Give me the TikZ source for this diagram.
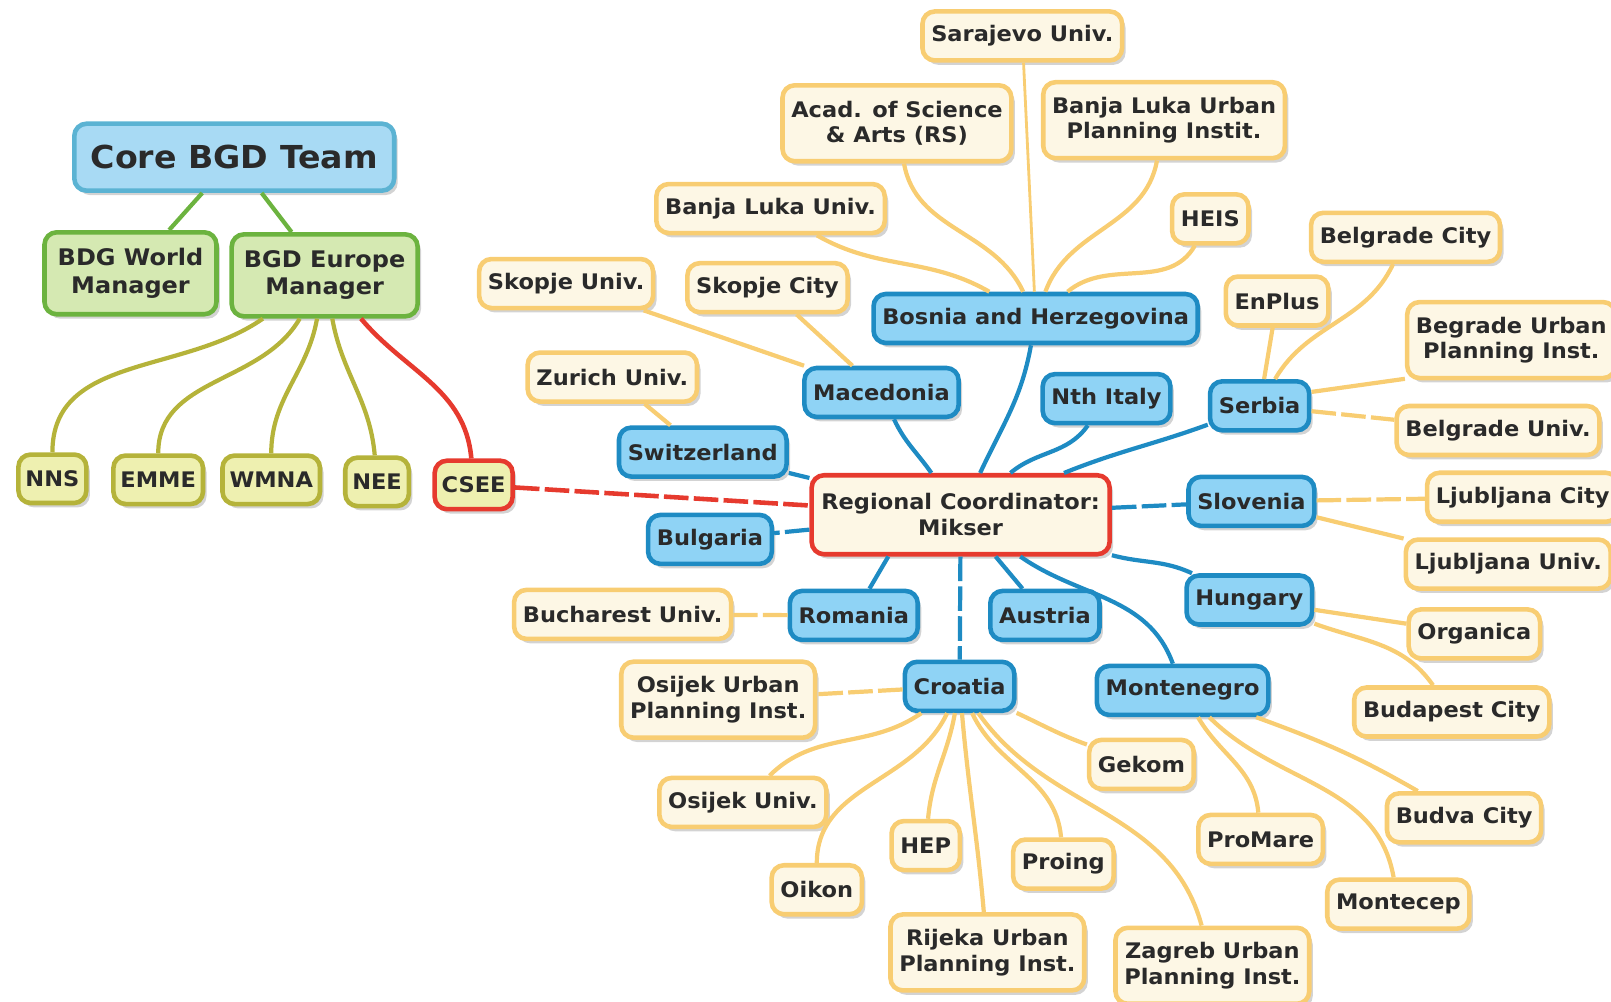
\documentclass[tikz,border=0pt]{standalone}
\usepackage{fontspec}
\setmainfont{DejaVu Sans}[FakeStretch=1.05]
\usetikzlibrary{shadows}

\definecolor{ink}{HTML}{2A2A2A}
\definecolor{cblue}{HTML}{1E8BC3}
\definecolor{cbluefill}{HTML}{8FD3F5}
\definecolor{tblue}{HTML}{5BB3D3}
\definecolor{tbluefill}{HTML}{A8DAF4}
\definecolor{pborder}{HTML}{F8CD72}
\definecolor{pfill}{HTML}{FDF7E5}
\definecolor{mgreen}{HTML}{6CB33F}
\definecolor{mgreenfill}{HTML}{D5E9B2}
\definecolor{gborder}{HTML}{B5B33A}
\definecolor{gfill}{HTML}{EEF0B0}
\definecolor{cred}{HTML}{E63A2E}

\begin{document}
\begin{tikzpicture}[x=0.02055cm, y=-0.02055cm,
    box/.style = {rounded corners=7pt, line width=2.6pt, align=center, inner xsep=5pt,
      inner ysep=2pt, minimum height=0.98cm, text=ink,
      font=\bfseries\fontsize{12.2}{14.6}\selectfont,
      drop shadow={shadow xshift=2pt, shadow yshift=-2.5pt, opacity=0.35}},
    country/.style = {box, draw=cblue, fill=cbluefill},
    partner/.style = {box, draw=pborder, fill=pfill},
    coordinator/.style = {box, draw=cred, fill=pfill, minimum width=5.96cm, minimum height=1.58cm},
    team/.style = {box, draw=tblue, fill=tbluefill, minimum width=6.4cm, minimum height=1.34cm,
      font=\bfseries\fontsize{18}{20}\selectfont},
    manager/.style = {box, draw=mgreen, fill=mgreenfill, minimum height=1.64cm,
      font=\bfseries\fontsize{13}{15.5}\selectfont},
    group/.style = {box, draw=gborder, fill=gfill, inner xsep=4pt, minimum height=0.97cm},
    twoline/.style = {minimum height=1.52cm},
    longdash/.style = {dash pattern=on 14pt off 3pt},
    countrylink/.style = {line width=2.4pt, draw=cblue},
    partnerlink/.style = {line width=2.4pt, draw=pborder},
    grouplink/.style = {line width=2.4pt, draw=gborder},
    managerlink/.style = {line width=2.4pt, draw=mgreen},
    redlink/.style = {line width=2.6pt, draw=cred}]

   \useasboundingbox (0,0) rectangle (1568,975);

   \node[team] (T) at (228,153) {Core BGD Team};
   \node[manager, minimum width=3.44cm] (W) at (127,266) {BDG World\\Manager};
   \node[manager, minimum width=3.72cm] (E) at (316,268) {BGD Europe\\Manager};
   \node[group] (NNS) at (51,466) {NNS};
   \node[group] (EMME) at (154,467) {EMME};
   \node[group] (WMNA) at (264,467) {WMNA};
   \node[group] (NEE) at (367,469) {NEE};
   \node[group, draw=cred] (CSEE) at (461,472) {CSEE};

   \node[coordinator] (RC) at (935,501) {Regional Coordinator:\\Mikser};

   \node[country] (BH) at (1008,310) {Bosnia and Herzegovina};
   \node[country] (MK) at (858,382) {Macedonia};
   \node[country] (IT) at (1077,388) {Nth Italy};
   \node[country] (RS) at (1226,395) {Serbia};
   \node[country] (CH) at (684,440) {Switzerland};
   \node[country] (SI) at (1218,488) {Slovenia};
   \node[country] (BG) at (691,525) {Bulgaria};
   \node[country] (RO) at (831,599) {Romania};
   \node[country] (AT) at (1017,599) {Austria};
   \node[country] (HU) at (1216,584) {Hungary};
   \node[country] (HR) at (934,668) {Croatia};
   \node[country] (ME) at (1151,672) {Montenegro};

   \node[partner] (sarajevo) at (995,35) {Sarajevo Univ.};
   \node[partner, twoline] (acad) at (873,120) {Acad. of Science\\\& Arts (RS)};
   \node[partner, twoline] (blurban) at (1133,117) {Banja Luka Urban\\Planning Instit.};
   \node[partner] (bluniv) at (750,203) {Banja Luka Univ.};
   \node[partner] (heis) at (1178,213) {HEIS};
   \node[partner] (bgcity) at (1368,231) {Belgrade City};
   \node[partner] (skuniv) at (551,276) {Skopje Univ.};
   \node[partner] (skcity) at (747,280) {Skopje City};
   \node[partner] (enplus) at (1243,293) {EnPlus};
   \node[partner, twoline] (bgurban) at (1471,331) {Begrade Urban\\Planning Inst.};
   \node[partner] (zurich) at (596,367) {Zurich Univ.};
   \node[partner] (bguniv) at (1458,419) {Belgrade Univ.};
   \node[partner] (ljcity) at (1482,484) {Ljubljana City};
   \node[partner] (ljuniv) at (1468,549) {Ljubljana Univ.};
   \node[partner] (bucharest) at (606,598) {Bucharest Univ.};
   \node[partner] (organica) at (1435,617) {Organica};
   \node[partner, twoline] (osurban) at (699,681) {Osijek Urban\\Planning Inst.};
   \node[partner] (budapest) at (1413,693) {Budapest City};
   \node[partner] (gekom) at (1111,744) {Gekom};
   \node[partner] (osuniv) at (723,781) {Osijek Univ.};
   \node[partner] (budva) at (1425,796) {Budva City};
   \node[partner] (promare) at (1227,817) {ProMare};
   \node[partner] (hep) at (901,823) {HEP};
   \node[partner] (proing) at (1035,841) {Proing};
   \node[partner] (oikon) at (795,866) {Oikon};
   \node[partner] (montecep) at (1361,880) {Montecep};
   \node[partner, twoline] (rijeka) at (961,927) {Rijeka Urban\\Planning Inst.};
   \node[partner, twoline] (zagreb) at (1180,940) {Zagreb Urban\\Planning Inst.};

   \draw[managerlink] (T) to (W);
   \draw[managerlink] (T) to (E);

   \draw[grouplink] (E) to[out=-145,in=90] (NNS);
   \draw[grouplink] (E) to[out=-120,in=90] (EMME);
   \draw[grouplink] (E) to[out=-100,in=90] (WMNA);
   \draw[grouplink] (E) to[out=-80,in=95] (NEE);
   \draw[redlink] (E) to[out=-50,in=95] (CSEE);
   \draw[redlink, longdash] (CSEE) to (RC);

   \draw[countrylink] (RC) to[out=65,in=-100] (BH);
   \draw[countrylink] (RC) to[out=125,in=-65] (MK);
   \draw[countrylink] (RC) to[out=40,in=-125] (IT);
   \draw[countrylink] (RC) to[out=22,in=-160] (RS);
   \draw[countrylink] (RC) to (CH);
   \draw[countrylink, longdash] (RC) to (BG);
   \draw[countrylink, longdash] (RC) to (SI);
   \draw[countrylink] (RC) to[out=-15,in=155] (HU);
   \draw[countrylink] (RC) to[out=-35,in=110] (ME);
   \draw[countrylink] (RC) to (AT);
   \draw[countrylink, longdash] (RC) to (HR);
   \draw[countrylink] (RC.-150) to (RO);

   \draw[partnerlink, line width=1.6pt] (BH) to (sarajevo);
   \draw[partnerlink] (BH) to[out=115,in=-80] (acad);
   \draw[partnerlink] (BH) to[out=70,in=-100] (blurban);
   \draw[partnerlink] (BH) to[out=150,in=-30] (bluniv);
   \draw[partnerlink] (BH) to[out=40,in=-120] (heis);

   \draw[partnerlink] (MK) to (skuniv);
   \draw[partnerlink] (MK) to (skcity);
   \draw[partnerlink] (CH) to (zurich);

   \draw[partnerlink] (RS) to (enplus);
   \draw[partnerlink] (RS) to[out=60,in=-115] (bgcity);
   \draw[partnerlink] (RS.15) to (bgurban.-160);
   \draw[partnerlink, longdash] (RS) to (bguniv);

   \draw[partnerlink, longdash] (SI) to (ljcity);
   \draw[partnerlink] (SI) to (ljuniv);
   \draw[partnerlink, longdash] (RO) to (bucharest);
   \draw[partnerlink] (HU) to (organica);
   \draw[partnerlink] (HU) to[out=-20,in=125] (budapest);

   \draw[partnerlink, longdash] (HR) to (osurban);
   \draw[partnerlink] (HR) to[out=-145,in=45] (osuniv);
   \draw[partnerlink] (HR) to[out=-115,in=90] (oikon);
   \draw[partnerlink] (HR) to[out=-100,in=85] (hep);
   \draw[partnerlink] (HR) to[out=-85,in=95] (rijeka);
   \draw[partnerlink] (HR) to[out=-65,in=95] (proing);
   \draw[partnerlink] (HR) to[out=-55,in=105] (zagreb);
   \draw[partnerlink] (HR) to[out=-25,in=160] (gekom);

   \draw[partnerlink] (ME) to[out=-60,in=95] (promare);
   \draw[partnerlink] (ME) to[out=-45,in=100] (montecep);
   \draw[partnerlink] (ME) to[out=-20,in=150] (budva);
 \end{tikzpicture}
\end{document}
